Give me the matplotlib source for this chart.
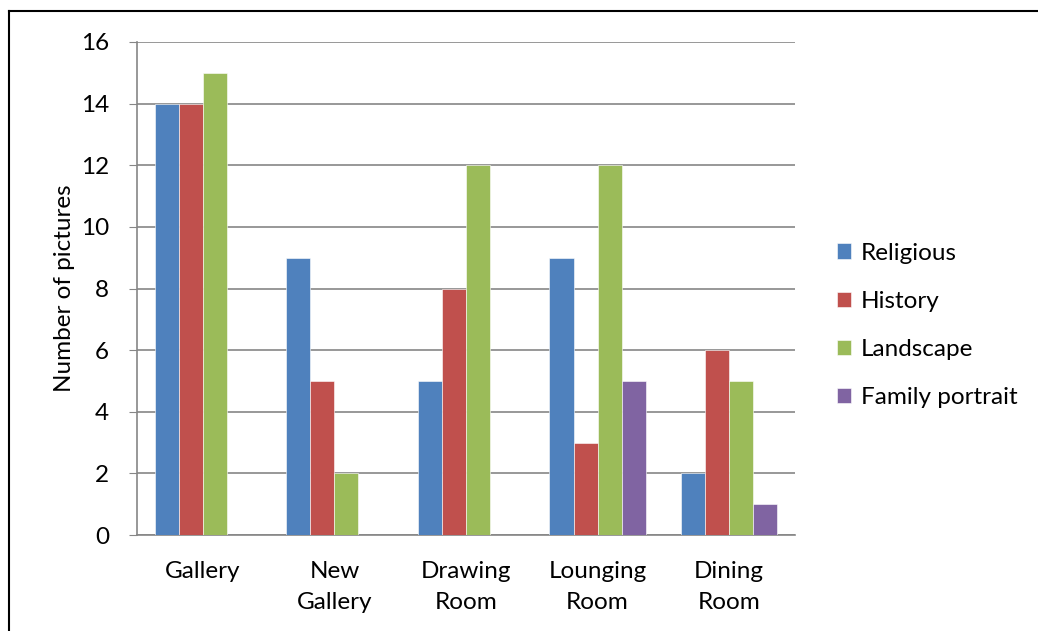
import numpy as np
import matplotlib.pyplot as plt
from matplotlib.lines import Line2D

rooms = ["Gallery", "New\nGallery", "Drawing\nRoom", "Lounging\nRoom", "Dining\nRoom"]
series = ["Religious", "History", "Landscape", "Family portrait"]
religious = [14, 9, 5, 9, 2]
history = [14, 5, 8, 3, 6]
landscape = [15, 2, 12, 12, 5]
family = [0, 0, 0, 5, 1]
colors = ["#4F81BD", "#C0504D", "#9BBB59", "#8064A2"]

plt.rcParams['font.family'] = ['Lato', 'DejaVu Sans']

fig = plt.figure(figsize=(10.38, 6.31), dpi=100)
ax = fig.add_axes([137 / 1038, 1 - 535 / 631, (795 - 137) / 1038, (535 - 42) / 631])

x = np.arange(len(rooms))
w = 0.183
for i, (vals, name) in enumerate(zip([religious, history, landscape, family], series)):
    ax.bar(x - 1.5 * w + i * w, vals, width=w, color=colors[i], label=name,
           edgecolor="white", linewidth=0.4, zorder=3)

ax.set_xlim(-0.5, len(rooms) - 0.5)
ax.set_ylim(0, 16)
ax.set_yticks(range(0, 17, 2))
ax.set_xticks(x)
ax.set_xticklabels(rooms, fontsize=17.5, linespacing=1.55)
ax.tick_params(axis='y', labelsize=17.5, length=6, color="#868686", pad=14)
ax.tick_params(axis='x', length=0, pad=19)
ax.yaxis.grid(True, color="#868686", linewidth=1.2, zorder=0)
for s in ["top", "right"]:
    ax.spines[s].set_visible(False)
for s in ["left", "bottom"]:
    ax.spines[s].set_color("#868686")
    ax.spines[s].set_linewidth(1.2)

ax.set_ylabel("Number of pictures", fontsize=17.5, labelpad=4)

ax.legend(loc="center left", bbox_to_anchor=(1.03, 0.425), frameon=False,
          fontsize=17.5, handlelength=0.6, handleheight=0.6, handletextpad=0.4,
          labelspacing=1.12)

# outer chart border (top and left visible)
fig.add_artist(Line2D([9 / 1038, 9 / 1038], [0, 1 - 11 / 631], color="black", lw=1.5))
fig.add_artist(Line2D([9 / 1038, 1], [1 - 11 / 631, 1 - 11 / 631], color="black", lw=1.5))

fig.savefig("out.png", dpi=100)
